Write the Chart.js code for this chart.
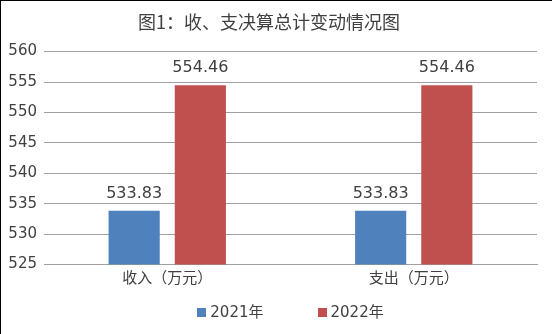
<!DOCTYPE html>
<html>
<head>
<meta charset="utf-8">
<script src="https://cdn.jsdelivr.net/npm/chart.js@4/dist/chart.umd.min.js"></script>
<style>
html,body{margin:0;padding:0;background:#fff;}
#wrap{position:relative;width:552px;height:334px;box-sizing:border-box;border-left:1px solid #000;border-top:1px solid #000;}
canvas{display:block;}
</style>
</head>
<body>
<div id="wrap"><canvas id="c" width="551" height="333"></canvas></div>
<script>
const categories = ['收入（万元）', '支出（万元）'];
const series2021 = [533.83, 533.83];
const series2022 = [554.46, 554.46];
const seriesNames = ['2021年', '2022年'];
const titleText = '图1：收、支决算总计变动情况图';
const yMin = 525, yMax = 560, yStep = 5;

const textColor = '#404040';
const fontFamily = '"DejaVu Sans", "Noto Sans CJK SC", sans-serif';

const valueLabels = {
  id: 'valueLabels',
  afterDatasetsDraw(chart) {
    const ctx = chart.ctx;
    ctx.save();
    ctx.font = '16px ' + fontFamily;
    ctx.fillStyle = textColor;
    ctx.textAlign = 'center';
    ctx.textBaseline = 'alphabetic';
    chart.data.datasets.forEach((ds, i) => {
      chart.getDatasetMeta(i).data.forEach((bar, j) => {
        ctx.fillText(ds.data[j].toFixed(2), bar.x, bar.y - 13);
      });
    });
    ctx.restore();
  }
};

const bottomLegend = {
  id: 'bottomLegend',
  afterDraw(chart) {
    const ctx = chart.ctx;
    const area = chart.chartArea;
    ctx.save();
    ctx.font = '15px ' + fontFamily;
    ctx.textBaseline = 'middle';
    ctx.textAlign = 'left';
    const box = 9, gapText = 4, gapItem = 54;
    const items = chart.data.datasets.map(ds => ({
      text: ds.label, color: ds.backgroundColor, w: box + gapText + ctx.measureText(ds.label).width
    }));
    const total = items.reduce((a, it) => a + it.w, 0) + gapItem * (items.length - 1);
    let x = (area.left + area.right) / 2 - total / 2;
    const y = 311;
    items.forEach(it => {
      ctx.fillStyle = it.color;
      ctx.fillRect(Math.round(x), Math.round(y - box / 2), box, box);
      ctx.fillStyle = textColor;
      ctx.fillText(it.text, x + box + gapText, y + 1);
      x += it.w + gapItem;
    });
    ctx.restore();
  }
};

new Chart(document.getElementById('c'), {
  type: 'bar',
  data: {
    labels: categories,
    datasets: [
      { label: seriesNames[0], data: series2021, backgroundColor: '#4F81BD' },
      { label: seriesNames[1], data: series2022, backgroundColor: '#C0504D' }
    ]
  },
  options: {
    responsive: false,
    animation: false,
    layout: { padding: { left: 0, right: 15, top: 0, bottom: 42.5 } },
    categoryPercentage: 0.537,
    barPercentage: 0.773,
    plugins: {
      title: {
        display: true,
        text: titleText,
        color: textColor,
        font: { family: '"Noto Sans CJK SC", sans-serif', size: 18, weight: 'normal' },
        padding: { top: 10, bottom: 19 }
      },
      legend: { display: false },
      tooltip: { enabled: false }
    },
    scales: {
      x: {
        grid: { display: false, drawTicks: false },
        border: { display: true, color: '#A0A0A0', width: 1 },
        ticks: { color: textColor, font: { family: fontFamily, size: 15 }, padding: 6 },
        afterFit(s) { s.height = 27; }
      },
      y: {
        min: yMin, max: yMax,
        grid: { color: '#A0A0A0', drawTicks: false },
        border: { display: false },
        ticks: { stepSize: yStep, color: textColor, font: { family: fontFamily, size: 15 }, padding: 7 },
        afterFit(s) { s.width = 43; }
      }
    }
  },
  plugins: [valueLabels, bottomLegend]
});
</script>
</body>
</html>
